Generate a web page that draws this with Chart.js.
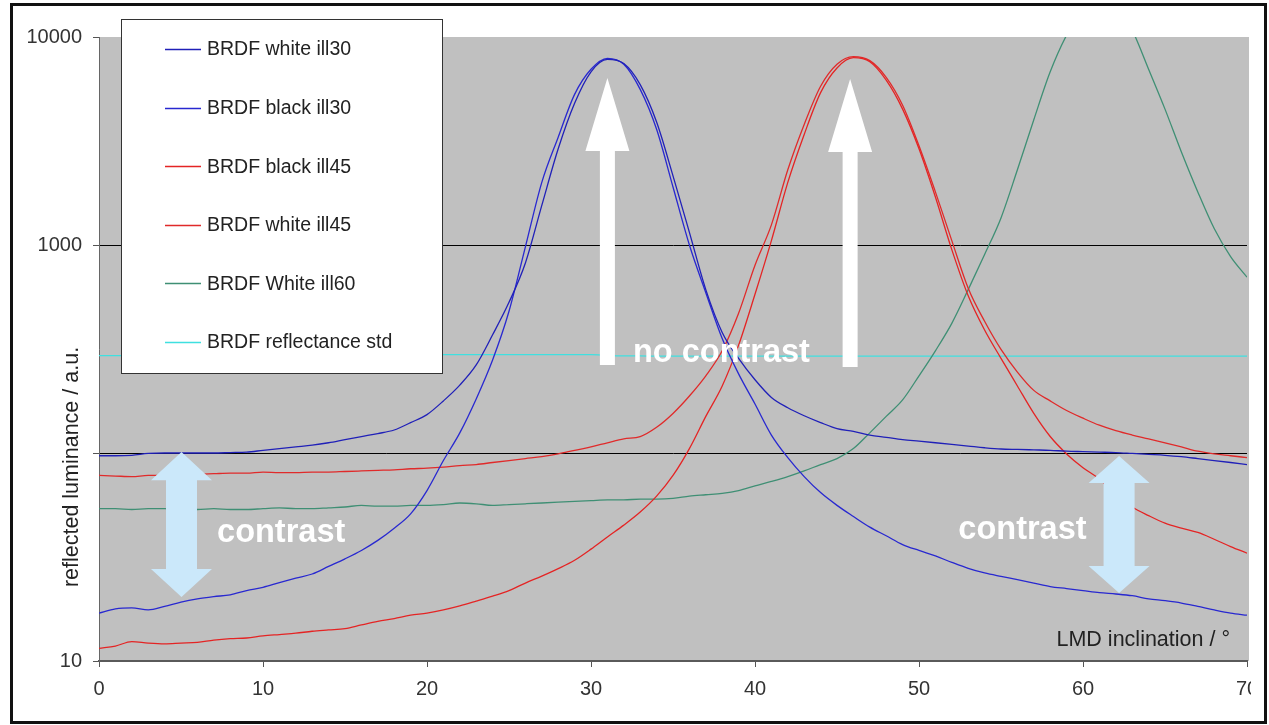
<!DOCTYPE html>
<html>
<head>
<meta charset="utf-8">
<script src="https://cdn.jsdelivr.net/npm/chart.js@4.4.1/dist/chart.umd.min.js"></script>
<style>
html,body{margin:0;padding:0;background:#fff;overflow:hidden}
canvas{display:block}
</style>
</head>
<body>
<canvas id="c" width="1269" height="725"></canvas>
<script>
// ---- data ----
const inclination = [0,1,2,3,4,5,6,7,8,9,10,11,12,13,14,15,16,17,18,19,20,21,22,23,24,25,26,27,28,29,30,31,32,33,34,35,36,37,38,39,40,41,42,43,44,45,46,47,48,49,50,51,52,53,54,55,56,57,58,59,60,61,62,63,64,65,66,67,68,69,70];

const whiteIll30 = [97,97,97.5,99.5,100,100,100,100,100.5,101,103,105,107,109,112,116,120,124,129,140,153,178,212,265,370,530,820,1550,2900,4800,6800,7800,7450,5900,3900,2150,1150,610,380,285,225,185,165,151,140,131,127,122,119,116,114,112,110,108,106,104.5,104,103.5,103,102,101.5,101,100.5,99.5,98.5,97.5,96,94,92,90,88];

const blackIll30 = [17.0,17.8,18.0,17.6,18.3,19.2,19.9,20.4,20.8,21.8,22.6,23.8,25.0,26.2,28.5,31.0,34.0,38.0,43.5,51,66,92,125,182,280,480,980,2000,3300,5300,7000,7900,7400,5600,3600,1900,1000,590,355,240,172,122,95,77,64.5,56,49.5,44,40,36.3,34,32,29.8,27.9,26.5,25.5,24.6,23.7,22.8,22.3,21.8,21.3,21,20.6,19.9,19.5,19.0,18.3,17.6,17.0,16.6];

const blackIll45 = [11.5,11.8,12.4,12.2,12.1,12.2,12.3,12.6,12.8,12.9,13.2,13.4,13.6,13.9,14.1,14.3,14.9,15.5,16.0,16.6,17.0,17.6,18.4,19.4,20.5,21.8,23.7,25.6,27.8,30.5,34.5,39.5,45,52,62,78,105,150,210,330,580,1050,2000,3400,5400,7100,7950,7600,6200,4500,2900,1700,950,570,390,285,210,155,120,99,85,75,63,55,50,46,43.5,41.5,38.5,35.5,33];

const whiteIll45 = [78,77.5,77,78,78,78.5,79,79.5,80,80,81,80.5,80.5,81,81,81.5,82,82.5,83,84,84.5,85.5,87,88,90,92,94,96,99,103,107,112,117,120,133,155,188,235,310,470,800,1250,2300,3800,5800,7400,8050,7700,6400,4700,3000,1800,1050,620,430,315,245,200,178,160,147,136,128,122,117,112,107,102,99,97,95];

const whiteIll60 = [54,54,53.5,54,54,53.5,53.5,54,53.5,53.5,54,54.5,54,54,54.5,55,56,55.5,55.5,56,56,56.5,57.5,57,56,56.5,57,57.5,58,58.5,59,59.5,59.5,60,60,60.5,62,63,64,66,69.5,73,77,82,88,94,105,125,150,180,235,310,420,610,900,1350,2300,4000,6800,10200,13500,15500,14500,10800,7000,4500,2800,1800,1200,880,700];

const reflectanceStd = [294,294,294,294,294,294,294,294,294,294,294,296,296,297,297,297,297,297,297,297,297,297,297,297,297,297,297,297,297,297,297,295,293,293,292,292,292,292,292,292,292,292,292,292,292,292,292,292,292,292,292,292,292,292,292,292,292,292,292,292,292,292,292,292,292,292,292,292,292,292,292];

const seriesNames = ['BRDF white ill30','BRDF black ill30','BRDF black ill45','BRDF white ill45','BRDF White ill60','BRDF reflectance std'];
const seriesValues = [whiteIll30, blackIll30, blackIll45, whiteIll45, whiteIll60, reflectanceStd];

const xTicks = [0,10,20,30,40,50,60,70];
const yTicks = [10,100,1000,10000];
const yTickLabels = ['10','','1000','10000'];

// annotation anchors in data units (degrees, a.u.)
const whiteArrows = [
  {x: 31.0, base: 265, neck: 2830, tip: 6350},
  {x: 45.8, base: 259, neck: 2800, tip: 6280}
];
const contrastArrows = [
  {x: 5.03, top: 101, topNeck: 74, bottomNeck: 27.7, bottom: 20.3},
  {x: 62.2, top: 96.8, topNeck: 71.8, bottomNeck: 28.6, bottom: 21.2}
];
const notes = [
  {text: 'contrast', x: 7.2, y: 37.3},
  {text: 'contrast', x: 52.4, y: 38.6},
  {text: 'no contrast', x: 32.56, y: 274}
];

// ---- styles ----
const colors = ['#2020b8','#2828d0','#e42424','#e02a2a','#3f8f74','#3fe0e0'];
const FONT = '"Liberation Sans", Arial, sans-serif';

const datasets = seriesNames.map((name, i) => ({
  label: name,
  data: inclination.map((x, k) => ({x: x, y: seriesValues[i][k]})),
  borderColor: colors[i],
  backgroundColor: colors[i],
  borderWidth: 1.3,
  pointRadius: 0,
  cubicInterpolationMode: 'monotone',
  clip: 0
}));

const decorPlugin = {
  id: 'decor',
  beforeDraw(chart) {
    const a = chart.chartArea, ctx = chart.ctx;
    ctx.save();
    ctx.fillStyle = '#c0c0c0';
    ctx.fillRect(a.left, a.top, a.right - a.left + 2, a.bottom - a.top);
    ctx.restore();
  },
  afterDatasetsDraw(chart) {
    const ctx = chart.ctx, xs = chart.scales.x, ys = chart.scales.y;
    ctx.save();
    ctx.fillStyle = '#ffffff';
    whiteArrows.forEach(w => {
      const cx = xs.getPixelForValue(w.x);
      const yb = ys.getPixelForValue(w.base), yn = ys.getPixelForValue(w.neck), yt = ys.getPixelForValue(w.tip);
      ctx.beginPath();
      ctx.moveTo(cx - 7.5, yb); ctx.lineTo(cx - 7.5, yn); ctx.lineTo(cx - 22, yn);
      ctx.lineTo(cx, yt); ctx.lineTo(cx + 22, yn); ctx.lineTo(cx + 7.5, yn); ctx.lineTo(cx + 7.5, yb);
      ctx.closePath(); ctx.fill();
    });
    ctx.fillStyle = '#cbe8fa';
    contrastArrows.forEach(c => {
      const cx = xs.getPixelForValue(c.x);
      const y1 = ys.getPixelForValue(c.top), y2 = ys.getPixelForValue(c.topNeck);
      const y3 = ys.getPixelForValue(c.bottomNeck), y4 = ys.getPixelForValue(c.bottom);
      ctx.beginPath();
      ctx.moveTo(cx, y1); ctx.lineTo(cx + 30.5, y2); ctx.lineTo(cx + 15.5, y2); ctx.lineTo(cx + 15.5, y3);
      ctx.lineTo(cx + 30.5, y3); ctx.lineTo(cx, y4); ctx.lineTo(cx - 30.5, y3); ctx.lineTo(cx - 15.5, y3);
      ctx.lineTo(cx - 15.5, y2); ctx.lineTo(cx - 30.5, y2); ctx.closePath(); ctx.fill();
    });
    ctx.fillStyle = '#ffffff';
    ctx.font = 'bold 32.5px ' + FONT;
    ctx.textAlign = 'left'; ctx.textBaseline = 'alphabetic';
    notes.forEach(n => ctx.fillText(n.text, xs.getPixelForValue(n.x), ys.getPixelForValue(n.y)));
    ctx.restore();
  },
  afterDraw(chart) {
    const ctx = chart.ctx, a = chart.chartArea;
    ctx.save();
    ctx.fillStyle = '#222';
    ctx.font = '21.5px ' + FONT;
    ctx.textAlign = 'right'; ctx.textBaseline = 'alphabetic';
    ctx.fillText('LMD inclination / \u00b0', a.right - 17, a.bottom - 15);
    ctx.save();
    ctx.translate(72, 467);
    ctx.rotate(-Math.PI / 2);
    ctx.textAlign = 'center'; ctx.textBaseline = 'middle';
    ctx.fillText('reflected luminance / a.u.', 0, 0);
    ctx.restore();
    const lx = a.left + 22, ly = a.top - 18, lw = 321, lh = 354;
    ctx.fillStyle = '#ffffff';
    ctx.fillRect(lx, ly, lw, lh);
    ctx.strokeStyle = '#333'; ctx.lineWidth = 1;
    ctx.strokeRect(lx + 0.5, ly + 0.5, lw, lh);
    ctx.font = '19.5px ' + FONT;
    ctx.textAlign = 'left'; ctx.textBaseline = 'middle';
    chart.data.datasets.forEach((d, i) => {
      const yy = ly + 30 + i * 58.6;
      ctx.strokeStyle = d.borderColor; ctx.lineWidth = 1.5;
      ctx.beginPath(); ctx.moveTo(lx + 44, Math.round(yy) + 0.5); ctx.lineTo(lx + 80, Math.round(yy) + 0.5); ctx.stroke();
      ctx.fillStyle = '#222';
      ctx.fillText(d.label, lx + 86, yy + 1);
    });
    ctx.fillStyle = '#ffffff';
    ctx.fillRect(a.right + 4, a.bottom + 4, 20, 50);
    ctx.strokeStyle = '#111'; ctx.lineWidth = 3;
    ctx.strokeRect(11.5, 4.5, 1254, 718);
    ctx.restore();
  }
};

new Chart(document.getElementById('c'), {
  type: 'line',
  data: {datasets: datasets},
  options: {
    responsive: false,
    animation: false,
    devicePixelRatio: 1,
    layout: {padding: {left: 0, top: 37, right: 22, bottom: 0}},
    plugins: {legend: {display: false}, tooltip: {enabled: false}, title: {display: false}},
    scales: {
      x: {
        type: 'linear', min: 0, max: 70,
        afterBuildTicks: s => { s.ticks = xTicks.map(v => ({value: v})); },
        afterFit: s => { s.height = 64; },
        grid: {drawOnChartArea: false, drawTicks: true, tickLength: 6, tickColor: '#555'},
        border: {display: true, color: '#5a5a5a', width: 2},
        ticks: {color: '#333', font: {family: FONT, size: 20}, padding: 10, maxRotation: 0}
      },
      y: {
        type: 'logarithmic', min: 10, max: 10000,
        afterBuildTicks: s => { s.ticks = yTicks.map(v => ({value: v})); },
        afterFit: s => { s.width = 99; },
        grid: {
          color: c => (c.tick && (c.tick.value === 100 || c.tick.value === 1000)) ? '#000' : 'rgba(0,0,0,0)',
          lineWidth: 1, drawTicks: true, tickLength: 6, tickColor: '#555'
        },
        border: {display: true, color: '#666', width: 1},
        ticks: {
          color: '#333', font: {family: FONT, size: 20}, padding: 11,
          callback: v => { const i = yTicks.indexOf(v); return i >= 0 ? yTickLabels[i] : ''; }
        }
      }
    }
  },
  plugins: [decorPlugin]
});
</script>
</body>
</html>
